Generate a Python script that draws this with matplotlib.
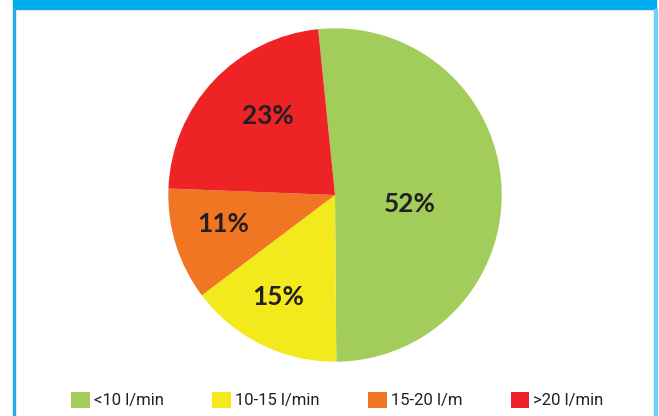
import matplotlib
matplotlib.use("Agg")
import matplotlib.pyplot as plt
from matplotlib.patches import Rectangle, Patch
import numpy as np

categories = ["<10 l/min", "10-15 l/min", "15-20 l/m", ">20 l/min"]
values = [52, 15, 11, 23]
colors = ["#a2cd5a", "#f3ea1d", "#f07623", "#ee2326"]
# label placement: (radius fraction, angle offset in degrees from wedge middle)
label_place = [(0.45, -10.0), (0.70, -3.0), (0.69, -3.0), (0.62, -6.5)]

W, H = 659, 416
fig = plt.figure(figsize=(W / 100, H / 100), dpi=100)
fig.patch.set_facecolor("white")

# frame: header bar and borders
fig.patches.append(Rectangle((13 / W, 1 - 9 / H), (656 - 13) / W, 9 / H,
                             transform=fig.transFigure, color="#00aeef", zorder=0))
fig.patches.append(Rectangle((13 / W, 0), 2 / W, 1 - 9 / H,
                             transform=fig.transFigure, color="#29abe2", zorder=0))
fig.patches.append(Rectangle((654 / W, 0), 3 / W, 1 - 9 / H,
                             transform=fig.transFigure, color="#6dcff6", zorder=0))

cx, cy, R = 335, 195, 166.7
ax = fig.add_axes([(cx - R) / W, (H - cy - R) / H, 2 * R / W, 2 * R / H])
ax.axis("off")

start = 95.8
wedges, _ = ax.pie(values, colors=colors, startangle=start, counterclock=False,
                   radius=1.0, center=(0, 0), wedgeprops=dict(linewidth=0),
                   frame=False)
ax.set_xlim(-1, 1)
ax.set_ylim(-1, 1)
ax.set_aspect("equal")

for w, v, (rf, off) in zip(wedges, values, label_place):
    mid = np.deg2rad((w.theta1 + w.theta2) / 2 + off)
    ax.text(rf * np.cos(mid), rf * np.sin(mid), f"{v}%", ha="center", va="center",
            fontsize=18.8, fontweight="bold", color="#231f20",
            family=["Lato", "DejaVu Sans"])

handles = [Patch(facecolor=c, edgecolor="none") for c in colors]
leg = fig.legend(handles, categories, loc="center", bbox_to_anchor=(337.5 / W, 1 - 400 / H),
                 ncol=4, frameon=False, handlelength=1.12, handleheight=1.12,
                 handletextpad=0.25, columnspacing=2.9,
                 prop=dict(family=["Roboto", "DejaVu Sans"], size=12))
for t in leg.get_texts():
    t.set_color("#231f20")

fig.savefig("out.png", dpi=100, facecolor="white")
